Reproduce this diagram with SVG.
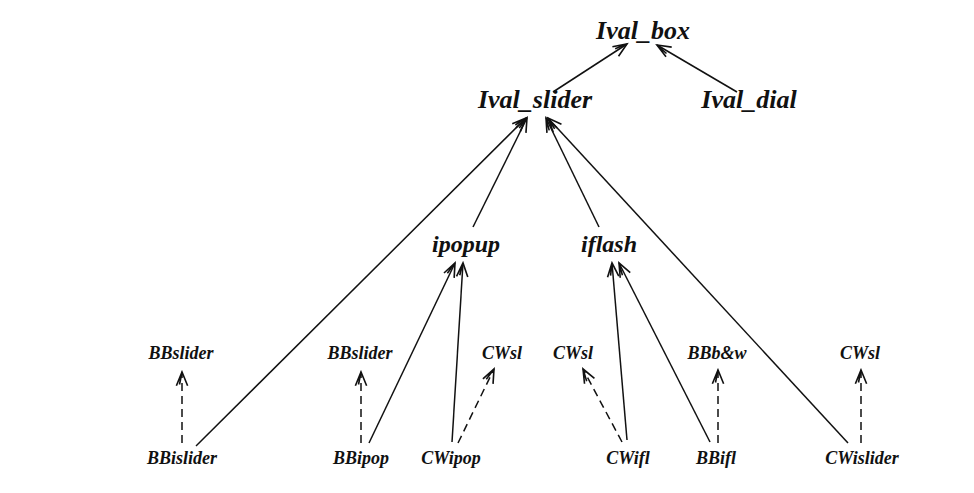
<svg xmlns="http://www.w3.org/2000/svg" width="974" height="493" viewBox="0 0 974 493">
<defs>
<marker id="arr" markerUnits="userSpaceOnUse" markerWidth="20" markerHeight="20" refX="0" refY="0" viewBox="-14 -7 16 14" orient="auto">
<path d="M -11 -4.5 L 0 0 L -11 4.5 M -10 -2 L 0 0" fill="none" stroke="#111" stroke-width="1.3"/>
</marker>
<style>
text{font-family:"Liberation Serif","Times New Roman",serif;font-weight:bold;font-style:italic;fill:#111;text-anchor:middle}
.l{font-size:26px}
.m{font-size:24px}
.s{font-size:18px}
.e{stroke:#111;stroke-width:1.5;fill:none;marker-end:url(#arr)}
.d{stroke-dasharray:8 5}
</style>
</defs>
<rect width="974" height="493" fill="#fff"/>
<g id="connectors">
<line class="e" x1="553" y1="92" x2="627" y2="44"/>
<line class="e" x1="737" y1="92" x2="657" y2="45"/>
<line class="e" x1="196" y1="446" x2="526" y2="118"/>
<line class="e" x1="473" y1="227" x2="527" y2="118"/>
<line class="e" x1="599" y1="227" x2="546" y2="118"/>
<line class="e" x1="848" y1="443" x2="548" y2="118"/>
<line class="e" x1="369" y1="443" x2="455" y2="263"/>
<line class="e" x1="452" y1="442" x2="463" y2="263"/>
<line class="e" x1="627" y1="440" x2="612" y2="263"/>
<line class="e" x1="710" y1="442" x2="619" y2="263"/>
<line class="e d" x1="182" y1="443" x2="182" y2="372"/>
<line class="e d" x1="361" y1="443" x2="361" y2="372"/>
<line class="e d" x1="458" y1="443" x2="494" y2="369"/>
<line class="e d" x1="622" y1="442" x2="583" y2="369"/>
<line class="e d" x1="718" y1="443" x2="718" y2="370"/>
<line class="e d" x1="861" y1="443" x2="861" y2="370"/>
</g>
<g id="ival_box"><text class="l" x="643" y="39">Ival_box</text></g>
<g id="ival_slider"><text class="l" x="535" y="108">Ival_slider</text></g>
<g id="ival_dial"><text class="l" x="749" y="108">Ival_dial</text></g>
<g id="ipopup"><text class="m" x="466" y="252">ipopup</text></g>
<g id="iflash"><text class="m" x="609" y="252">iflash</text></g>
<g id="bbslider1"><text class="s" x="181" y="359">BBslider</text></g>
<g id="bbslider2"><text class="s" x="360" y="359">BBslider</text></g>
<g id="cwsl1"><text class="s" x="502" y="359">CWsl</text></g>
<g id="cwsl2"><text class="s" x="573" y="359">CWsl</text></g>
<g id="bbbw"><text class="s" x="717" y="359">BBb&amp;w</text></g>
<g id="cwsl3"><text class="s" x="860" y="359">CWsl</text></g>
<g id="bbislider"><text class="s" x="182" y="464">BBislider</text></g>
<g id="bbipop"><text class="s" x="361" y="464">BBipop</text></g>
<g id="cwipop"><text class="s" x="451" y="464">CWipop</text></g>
<g id="cwifl"><text class="s" x="628" y="464">CWifl</text></g>
<g id="bbifl"><text class="s" x="716" y="464">BBifl</text></g>
<g id="cwislider"><text class="s" x="862" y="464">CWislider</text></g>
</svg>
